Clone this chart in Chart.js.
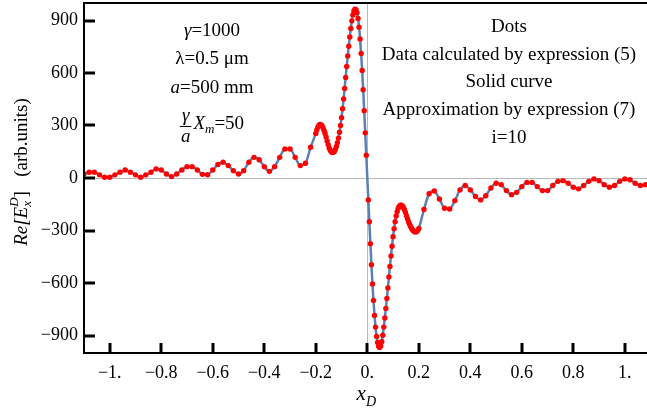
<!DOCTYPE html>
<html>
<head>
<meta charset="utf-8">
<script src="https://cdn.jsdelivr.net/npm/chart.js@4.4.1/dist/chart.umd.min.js"></script>
<style>
  html, body { margin: 0; padding: 0; background: #fff; }
</style>
</head>
<body>
<canvas id="chart" width="647" height="416"></canvas>
<script>
// sample points: sparse on the wings, dense near x = 0
const xOuterLeft = [-1.10, -1.08, -1.06, -1.04, -1.02, -1.00, -0.98, -0.96, -0.94, -0.92,
  -0.90, -0.88, -0.86, -0.84, -0.82, -0.80, -0.78, -0.76, -0.74, -0.72,
  -0.70, -0.68, -0.66, -0.64, -0.62, -0.60, -0.58, -0.56, -0.54, -0.52,
  -0.50, -0.48, -0.46, -0.44, -0.42, -0.40, -0.38, -0.36, -0.34, -0.32,
  -0.30, -0.28, -0.26, -0.24, -0.22];
const yOuterLeft = [23, 33, 33, 18, 4, 4, 18, 33, 46, 33,
  18, 4, 18, 33, 52, 46, 23, 8, 23, 46,
  65, 65, 46, 21, 19, 46, 77, 90, 71, 42,
  23, 42, 90, 118, 104, 65, 38, 65, 118, 166,
  166, 118, 71, 84, 176];

const xCenter = [-0.200, -0.196, -0.192, -0.188, -0.184, -0.180, -0.176, -0.172, -0.168, -0.164,
  -0.160, -0.156, -0.152, -0.148, -0.144, -0.140, -0.136, -0.132, -0.128, -0.124,
  -0.120, -0.116, -0.112, -0.108, -0.104, -0.100, -0.096, -0.092, -0.088, -0.084,
  -0.080, -0.076, -0.072, -0.068, -0.064, -0.060, -0.056, -0.052, -0.048, -0.044,
  -0.040, -0.036, -0.032, -0.028, -0.024, -0.020, -0.016, -0.012, -0.008, -0.004,
  0.004, 0.008, 0.012, 0.016, 0.020, 0.024, 0.028, 0.032, 0.036, 0.040,
  0.044, 0.048, 0.052, 0.056, 0.060, 0.064, 0.068, 0.072, 0.076, 0.080,
  0.084, 0.088, 0.092, 0.096, 0.100, 0.104, 0.108, 0.112, 0.116, 0.120,
  0.124, 0.128, 0.132, 0.136, 0.140, 0.144, 0.148, 0.152, 0.156, 0.160,
  0.164, 0.168, 0.172, 0.176, 0.180, 0.184, 0.188, 0.192, 0.196, 0.200];
const yCenter = [255, 275, 291, 301, 306, 305, 299, 288, 272, 255,
  234, 212, 191, 172, 159, 150, 146, 147, 152, 163,
  180, 202, 228, 262, 300, 345, 396, 452, 512, 575,
  637, 697, 753, 806, 855, 898, 932, 955, 965, 962,
  945, 912, 862, 795, 712, 615, 505, 385, 258, 130,
  -125, -250, -375, -495, -605, -700, -785, -852, -905, -940,
  -962, -968, -960, -935, -898, -852, -800, -745, -688, -628,
  -565, -505, -445, -390, -335, -290, -250, -217, -192, -173,
  -162, -156, -155, -159, -167, -180, -196, -215, -233, -250,
  -264, -277, -288, -297, -303, -307, -308, -306, -299, -288];

const xOuterRight = [0.22, 0.24, 0.26, 0.28, 0.30, 0.32, 0.34, 0.36, 0.38, 0.40,
  0.42, 0.44, 0.46, 0.48, 0.50, 0.52, 0.54, 0.56, 0.58, 0.60,
  0.62, 0.64, 0.66, 0.68, 0.70, 0.72, 0.74, 0.76, 0.78, 0.80,
  0.82, 0.84, 0.86, 0.88, 0.90, 0.92, 0.94, 0.96, 0.98, 1.00,
  1.02, 1.04, 1.06, 1.08];
const yOuterRight = [-180, -90, -74, -120, -173, -177, -129, -68, -43, -68,
  -106, -125, -101, -57, -30, -38, -72, -95, -82, -49,
  -25, -25, -49, -72, -72, -43, -19, -15, -30, -53,
  -62, -43, -19, -5, -15, -38, -53, -43, -19, -5,
  -10, -30, -43, -38];

const xTicks = [-1, -0.8, -0.6, -0.4, -0.2, 0, 0.2, 0.4, 0.6, 0.8, 1];
const xTickLabels = ["−1.", "−0.8", "−0.6", "−0.4", "−0.2", "0.", "0.2", "0.4", "0.6", "0.8", "1."];
const yTicks = [-900, -600, -300, 0, 300, 600, 900];
const yTickLabels = ["−900", "−600", "−300", "0", "300", "600", "900"];

const xD = xOuterLeft.concat(xCenter, xOuterRight);
const reEx = yOuterLeft.concat(yCenter, yOuterRight);
const points = xD.map((x, i) => ({ x: x, y: reEx[i] }));

const SERIF = '"Liberation Serif", "Times New Roman", serif';

// draws a run of text pieces; a piece with "over" is stacked on the previous one
function rich(ctx, parts, x, y, align) {
  const font = p => (p.it ? 'italic ' : '') + (p.s || 19) + 'px ' + SERIF;
  let total = 0, prev = 0;
  parts.forEach(p => {
    ctx.font = font(p);
    p.w = ctx.measureText(p.t).width;
    if (p.over) { total += Math.max(0, p.w - prev); prev = Math.max(prev, p.w); }
    else { total += p.w; prev = p.w; }
  });
  let cx = align === 'center' ? x - total / 2 : x;
  let last = 0;
  parts.forEach(p => {
    ctx.font = font(p);
    if (p.over) {
      ctx.fillText(p.t, cx - last, y + (p.dy || 0));
      if (p.w > last) { cx += p.w - last; last = p.w; }
    } else {
      ctx.fillText(p.t, cx, y + (p.dy || 0));
      cx += p.w; last = p.w;
    }
  });
}

const decorations = {
  id: 'decorations',
  afterDraw(chart) {
    const { ctx, chartArea: a, scales: { x, y } } = chart;
    ctx.save();
    // frame
    ctx.strokeStyle = '#000';
    ctx.lineWidth = 2;
    ctx.beginPath();
    ctx.moveTo(a.left, a.top); ctx.lineTo(a.right, a.top);
    ctx.moveTo(a.left, a.top - 1); ctx.lineTo(a.left, a.bottom + 1);
    ctx.moveTo(a.left, a.bottom); ctx.lineTo(a.right, a.bottom);
    ctx.stroke();
    // inward ticks
    ctx.lineWidth = 3;
    ctx.beginPath();
    yTicks.forEach(v => {
      const py = Math.round(y.getPixelForValue(v));
      ctx.moveTo(a.left, py); ctx.lineTo(a.left + 11, py);
    });
    xTicks.forEach(v => {
      const px = Math.round(x.getPixelForValue(v));
      ctx.moveTo(px, a.bottom); ctx.lineTo(px, a.bottom - 10);
    });
    ctx.stroke();

    ctx.fillStyle = '#000';
    ctx.textBaseline = 'alphabetic';

    // x axis title
    rich(ctx, [{ t: 'x', it: true, s: 21 }, { t: 'D', it: true, s: 14, dy: 6 }], x.getPixelForValue(0) - 1, 400, 'center');

    // y axis title
    ctx.save();
    ctx.translate(27, 172);
    ctx.rotate(-Math.PI / 2);
    rich(ctx, [
      { t: 'Re[E', it: true, s: 19 },
      { t: 'x', it: true, s: 13, dy: 4 },
      { t: 'D', it: true, s: 13, dy: -9, over: true },
      { t: ']', s: 19 },
      { t: '   (arb.units)', s: 19 }
    ], 0, 0, 'center');
    ctx.restore();

    // parameter block
    const cl = 212;
    rich(ctx, [{ t: 'γ', it: true }, { t: '=1000' }], cl, 36, 'center');
    rich(ctx, [{ t: 'λ=0.5 μm' }], cl, 64, 'center');
    rich(ctx, [{ t: 'a', it: true }, { t: '=500 mm' }], cl, 93, 'center');
    ctx.font = 'italic 19px ' + SERIF;
    const fw = Math.max(ctx.measureText('γ').width, ctx.measureText('a').width) + 2;
    const xw = ctx.measureText('X').width;
    ctx.font = 'italic 13px ' + SERIF;
    const mw = ctx.measureText('m').width;
    ctx.font = '19px ' + SERIF;
    const ew = ctx.measureText('=50').width;
    const gx = cl - (fw + 2 + xw + mw + ew) / 2;
    ctx.textAlign = 'center';
    ctx.font = 'italic 19px ' + SERIF;
    ctx.fillText('γ', gx + fw / 2, 121);
    ctx.fillText('a', gx + fw / 2, 142);
    ctx.textAlign = 'left';
    ctx.lineWidth = 1;
    ctx.beginPath();
    ctx.moveTo(gx, 126.5); ctx.lineTo(gx + fw, 126.5);
    ctx.stroke();
    rich(ctx, [{ t: 'X', it: true }, { t: 'm', it: true, s: 13, dy: 4 }, { t: '=50' }], gx + fw + 2, 129, 'left');

    // legend-like text block
    const cr = 509;
    rich(ctx, [{ t: 'Dots' }], cr, 32, 'center');
    rich(ctx, [{ t: 'Data calculated by expression (5)' }], cr, 60, 'center');
    rich(ctx, [{ t: 'Solid curve' }], cr, 87, 'center');
    rich(ctx, [{ t: 'Approximation by expression (7)' }], cr, 115, 'center');
    rich(ctx, [{ t: 'i=10' }], cr, 143, 'center');
    ctx.restore();
  }
};

const zeroLine = ctx => ctx.tick && ctx.tick.value === 0 ? '#b8b8b8' : 'rgba(0,0,0,0)';

new Chart(document.getElementById('chart'), {
  type: 'scatter',
  data: {
    datasets: [{
      label: 'Dots',
      data: points,
      order: 0,
      showLine: false,
      pointRadius: 2.7,
      pointBorderWidth: 0,
      pointBackgroundColor: '#ff0000'
    }, {
      label: 'Solid curve',
      data: points,
      order: 1,
      showLine: true,
      pointRadius: 0,
      borderColor: '#5b80b6',
      borderWidth: 2.5,
      cubicInterpolationMode: 'monotone'
    }]
  },
  options: {
    responsive: false,
    devicePixelRatio: 1,
    animation: false,
    layout: { autoPadding: false, padding: { top: 3, right: 0, left: 0, bottom: 0 } },
    plugins: { legend: { display: false }, tooltip: { enabled: false } },
    scales: {
      x: {
        type: 'linear',
        min: -1.1,
        max: 1.086,
        afterBuildTicks: s => { s.ticks = xTicks.map(v => ({ value: v })); },
        afterFit: s => { s.height = 63; s.paddingLeft = 0; s.paddingRight = 0; },
        border: { display: false },
        grid: { color: zeroLine, lineWidth: 1, drawTicks: false },
        ticks: {
          autoSkip: false,
          maxRotation: 0,
          padding: 9,
          color: '#000',
          font: { family: SERIF, size: 18 },
          callback: (v, i) => xTickLabels[i]
        }
      },
      y: {
        min: -1000,
        max: 1000,
        afterBuildTicks: s => { s.ticks = yTicks.map(v => ({ value: v })); },
        afterFit: s => { s.width = 84; s.paddingTop = 0; s.paddingBottom = 0; },
        border: { display: false },
        grid: { color: zeroLine, lineWidth: 1, drawTicks: false },
        ticks: {
          padding: 6,
          color: '#000',
          font: { family: SERIF, size: 18 },
          callback: (v, i) => yTickLabels[i]
        }
      }
    }
  },
  plugins: [decorations]
});
</script>
</body>
</html>
